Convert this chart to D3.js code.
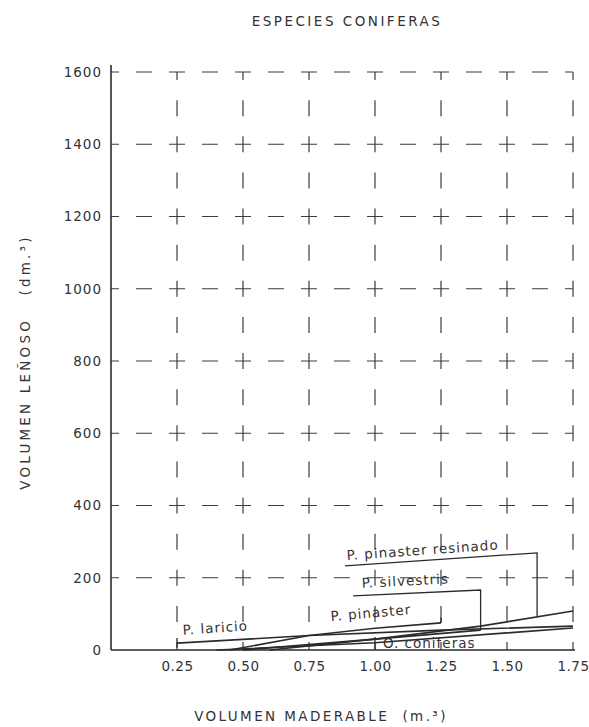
<!DOCTYPE html>
<html><head><meta charset="utf-8">
<script src="https://cdn.jsdelivr.net/npm/d3@7"></script>
<style>body{margin:0;background:#fff} text{font-family:"DejaVu Sans",sans-serif;fill:#333}</style>
</head><body>
<svg id="c" width="589" height="727"></svg>
<script>
// ---- data ----
const chartTitle = "ESPECIES CONIFERAS";
const xTitle = "VOLUMEN MADERABLE  (m.³)";
const yTitle = "VOLUMEN LEÑOSO   (dm.³)";
const xTicks = [0.25, 0.5, 0.75, 1.0, 1.25, 1.5, 1.75];
const xTickLabels = ["0.25", "0.50", "0.75", "1.00", "1.25", "1.50", "1.75"];
const yTicks = [0, 200, 400, 600, 800, 1000, 1200, 1400, 1600];
const yTickLabels = ["0", "200", "400", "600", "800", "1000", "1200", "1400", "1600"];

const seriesNames = ["P. laricio", "P. pinaster", "P. silvestris", "P. pinaster resinado", "O. coniferas"];
const laricioX = [0.25, 0.75, 1.25, 1.75];
const laricioY = [19, 40, 55, 66];
const pinasterX = [0.45, 0.75, 1.00, 1.25];
const pinasterY = [0, 40, 60, 75];
const silvestrisX = [0.50, 1.00, 1.40];
const silvestrisY = [0, 30, 55];
const resinadoX = [0.60, 1.00, 1.40, 1.75];
const resinadoY = [0, 30, 66, 108];
const otrasX = [0.40, 1.00, 1.75];
const otrasY = [0, 20, 61];

// ---- layout ----
const svg = d3.select("#c");
const x = d3.scaleLinear().domain([0, 1.75]).range([111, 573]);
const y = d3.scaleLinear().domain([0, 1600]).range([650, 72]);
const ink = "#2b2b2b";

const zip = (xs, ys) => xs.map((v, i) => [v, ys[i]]);
const series = [
  zip(laricioX, laricioY),
  zip(pinasterX, pinasterY),
  zip(silvestrisX, silvestrisY),
  zip(resinadoX, resinadoY),
  zip(otrasX, otrasY)
];
const valueAt = (pts, xv) => {
  for (let i = 1; i < pts.length; i++) {
    if (xv <= pts[i][0]) {
      const t = (xv - pts[i-1][0]) / (pts[i][0] - pts[i-1][0]);
      return pts[i-1][1] + t * (pts[i][1] - pts[i-1][1]);
    }
  }
  return pts[pts.length-1][1];
};

// grid
const stepX = (x(0.25) - x(0)) / 2;
const stepY = (y(0) - y(100));
const grid = svg.append("g").attr("stroke", "#3d3d3d").attr("stroke-width", 1.2).attr("fill", "none");
grid.selectAll("line.h").data(yTicks.filter(d => d > 0)).join("line")
  .attr("x1", x(0)).attr("x2", x(1.75))
  .attr("y1", d => y(d)).attr("y2", d => y(d))
  .attr("stroke-dasharray", `16,${stepX - 16}`).attr("stroke-dashoffset", 8);
grid.selectAll("line.v").data(xTicks).join("line")
  .attr("x1", d => x(d)).attr("x2", d => x(d))
  .attr("y1", y(0)).attr("y2", y(1600))
  .attr("stroke-dasharray", `16,${stepY - 16}`).attr("stroke-dashoffset", 8);

// axes lines
svg.append("line").attr("x1", x(0)).attr("x2", x(0)).attr("y1", y(0)).attr("y2", y(1600) - 7)
  .attr("stroke", ink).attr("stroke-width", 1.6);
svg.append("line").attr("x1", x(0)).attr("x2", x(1.75) + 2).attr("y1", y(0)).attr("y2", y(0))
  .attr("stroke", ink).attr("stroke-width", 1.6);

// tick labels
const ya = svg.append("g").attr("transform", `translate(${x(0)},0)`)
  .call(d3.axisLeft(y).tickValues(yTicks).tickSize(0).tickPadding(9).tickFormat((d, i) => yTickLabels[i]));
ya.select(".domain").remove();
ya.selectAll("text").style("font-size", "13.5px").style("letter-spacing", "1px").attr("fill", "#333");
const xa = svg.append("g").attr("transform", `translate(0,${y(0)})`)
  .call(d3.axisBottom(x).tickValues(xTicks).tickSize(0).tickPadding(11).tickFormat((d, i) => xTickLabels[i]));
xa.select(".domain").remove();
xa.selectAll("text").style("font-size", "13.5px").style("letter-spacing", "0.5px").attr("fill", "#333");

// titles
svg.append("text").attr("x", 347).attr("y", 26).attr("text-anchor", "middle")
  .style("font-size", "13.5px").style("letter-spacing", "2.5px").style("white-space", "pre").text(chartTitle);
svg.append("text").attr("x", 321).attr("y", 721).attr("text-anchor", "middle")
  .style("font-size", "13.5px").style("letter-spacing", "2.4px").style("white-space", "pre").text(xTitle);
svg.append("text").attr("transform", "translate(30,362) rotate(-90)").attr("text-anchor", "middle")
  .style("font-size", "13.5px").style("letter-spacing", "3.2px").style("white-space", "pre").text(yTitle);

// data lines
const line = d3.line().x(d => x(d[0])).y(d => y(d[1]));
svg.append("g").selectAll("path").data(series).join("path")
  .attr("d", line).attr("fill", "none").attr("stroke", ink).attr("stroke-width", 1.6);

// annotations (data space)
const ann = svg.append("g").attr("stroke", ink).attr("stroke-width", 1.3).attr("fill", "none");
const leader = (pts) => ann.append("path").attr("d", d3.line().x(d => x(d[0])).y(d => y(d[1]))(pts));
leader([[0.886, 233], [1.614, 269], [1.614, valueAt(series[3], 1.614)]]);
leader([[0.917, 150], [1.40, 166], [1.40, valueAt(series[2], 1.40)]]);
leader([[1.25, 90], [1.25, valueAt(series[1], 1.25)]]);
leader([[0.25, 33], [0.25, 6]]);
leader([[1.0, 0], [1.0, 36]]);

const lab = (txt, xv, yv, rot) => svg.append("text")
  .attr("transform", `translate(${x(xv)},${y(yv)}) rotate(${rot})`)
  .style("font-size", "13.5px").style("letter-spacing", "1px").style("white-space", "pre").text(txt);
lab(seriesNames[3], 0.894, 249, -4);
lab(seriesNames[2], 0.951, 172, -3);
lab(seriesNames[1], 0.833, 80, -5);
lab(seriesNames[0], 0.273, 42, -4);
lab(seriesNames[4], 1.03, 5, 0);
</script>
</body></html>
